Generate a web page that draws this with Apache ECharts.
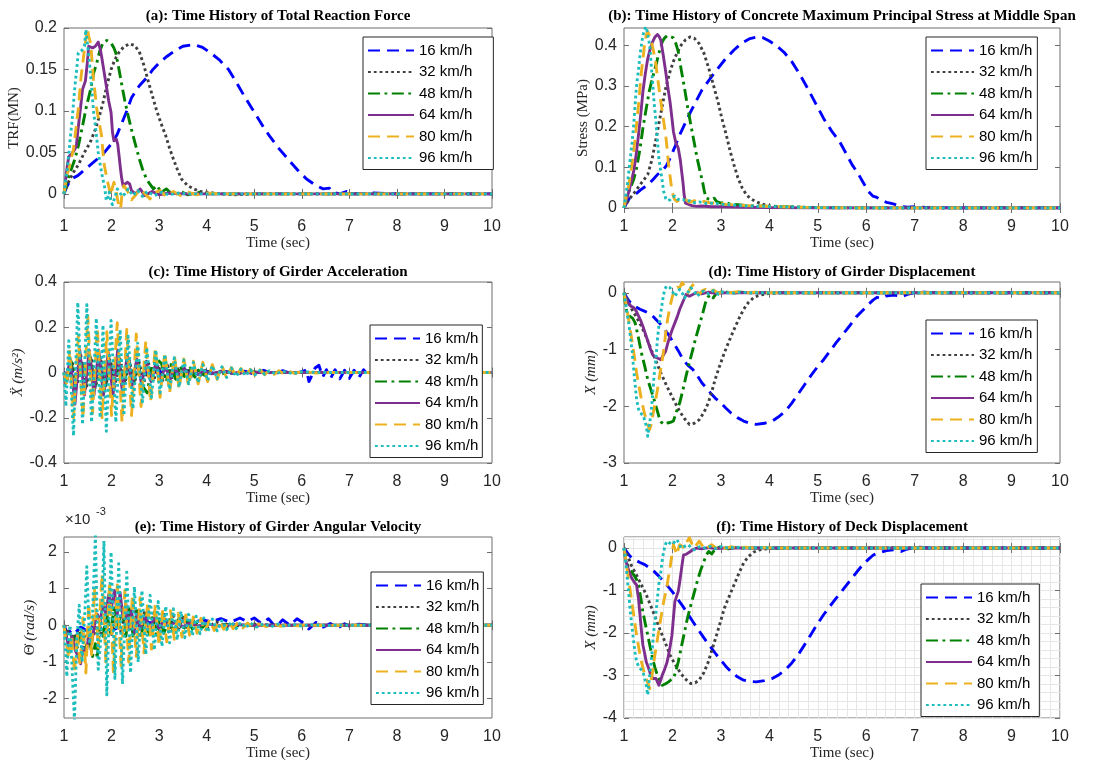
<!DOCTYPE html>
<html><head><meta charset="utf-8">
<script src="https://cdn.jsdelivr.net/npm/echarts@6.0.0/dist/echarts.min.js"></script>
<style>html,body{margin:0;padding:0;background:#fff}#c{width:1109px;height:766px}</style>
</head><body><div id="c"></div>
<script>
// ---------------- DATA (time in sec, value) ----------------
const speeds = ['16 km/h','32 km/h','48 km/h','64 km/h','80 km/h','96 km/h'];
const xTicks = [1,2,3,4,5,6,7,8,9,10];

// (a) Total reaction force (MN)
const A16=[[1,0],[1.05,0.008],[1.15,0.018],[1.29,0.022],[1.45,0.03],[1.66,0.04],[1.85,0.05],[2.02,0.062],[2.12,0.072],[2.22,0.086],[2.32,0.1],[2.42,0.116],[2.58,0.13],[2.74,0.14],[2.87,0.15],[3.0,0.158],[3.17,0.166],[3.34,0.173],[3.5,0.178],[3.73,0.18],[3.9,0.177],[4.06,0.171],[4.26,0.162],[4.46,0.15],[4.62,0.135],[4.79,0.118],[4.92,0.106],[5.05,0.094],[5.2,0.08],[5.32,0.07],[5.5,0.056],[5.65,0.046],[5.8,0.036],[5.94,0.027],[6.1,0.018],[6.3,0.01],[6.45,0.006],[6.58,0.007],[6.65,0.002],[6.8,0.0],[6.95,0.003],[7.1,0],[7.5,0.001],[8,0],[9,0],[10,0]];
const A32=[[1,0],[1.1,0.015],[1.2,0.026],[1.3,0.035],[1.43,0.05],[1.55,0.062],[1.66,0.078],[1.75,0.095],[1.82,0.11],[1.9,0.13],[1.99,0.15],[2.07,0.162],[2.15,0.17],[2.25,0.177],[2.38,0.181],[2.48,0.179],[2.58,0.172],[2.68,0.155],[2.78,0.134],[2.86,0.118],[2.94,0.102],[3.04,0.085],[3.14,0.07],[3.22,0.055],[3.3,0.042],[3.38,0.03],[3.47,0.018],[3.6,0.01],[3.73,0.006],[3.85,0.003],[4.0,0.002],[4.3,0.0],[4.6,-0.001],[5,0],[6,0],[7,0],[8,0],[9,0],[10,0]];
const A48=[[1,0],[1.06,0.015],[1.13,0.026],[1.23,0.042],[1.31,0.06],[1.39,0.082],[1.47,0.105],[1.56,0.126],[1.62,0.145],[1.69,0.158],[1.75,0.172],[1.82,0.182],[1.9,0.185],[1.99,0.182],[2.05,0.176],[2.09,0.17],[2.15,0.152],[2.22,0.13],[2.28,0.112],[2.35,0.094],[2.43,0.075],[2.51,0.058],[2.58,0.043],[2.65,0.03],[2.72,0.02],[2.78,0.014],[2.88,0.006],[2.95,0.01],[3.05,0.002],[3.15,0.006],[3.3,-0.002],[3.45,0.003],[3.6,-0.001],[3.8,0.002],[4.0,0],[4.5,0],[5,0],[6,0],[7,0],[8,0],[9,0],[10,0]];
const A64=[[1,0],[1.04,0.02],[1.07,0.034],[1.1,0.045],[1.16,0.048],[1.22,0.053],[1.26,0.058],[1.29,0.075],[1.32,0.09],[1.36,0.11],[1.39,0.126],[1.45,0.136],[1.49,0.158],[1.52,0.178],[1.56,0.18],[1.6,0.176],[1.66,0.178],[1.72,0.183],[1.76,0.175],[1.79,0.166],[1.84,0.148],[1.89,0.13],[1.94,0.112],[1.99,0.098],[2.02,0.074],[2.05,0.064],[2.1,0.066],[2.13,0.06],[2.16,0.045],[2.18,0.034],[2.21,0.02],[2.24,0.01],[2.28,0.008],[2.33,0.014],[2.38,0.012],[2.42,0.004],[2.5,0.0],[2.6,0.006],[2.7,-0.002],[2.85,0.003],[3.0,-0.001],[3.2,0.001],[3.5,0],[4,0],[5,0],[6,0],[7,0],[8,0],[9,0],[10,0]];
const A80=[[1,0],[1.05,0.02],[1.1,0.03],[1.15,0.042],[1.2,0.054],[1.25,0.078],[1.3,0.102],[1.33,0.122],[1.36,0.142],[1.4,0.16],[1.43,0.175],[1.46,0.186],[1.49,0.2],[1.52,0.19],[1.56,0.182],[1.59,0.16],[1.62,0.138],[1.66,0.118],[1.69,0.102],[1.74,0.086],[1.79,0.07],[1.82,0.05],[1.85,0.034],[1.89,0.022],[1.92,0.014],[1.96,0.004],[1.99,-0.002],[2.02,0.008],[2.05,0.014],[2.1,0.002],[2.15,-0.014],[2.19,-0.018],[2.22,0.0],[2.26,0.01],[2.33,0.004],[2.42,-0.007],[2.5,-0.002],[2.61,0.007],[2.7,0.0],[2.81,-0.006],[2.92,0.002],[3.02,0.004],[3.15,-0.003],[3.3,0.003],[3.45,-0.002],[3.6,0.002],[3.8,-0.001],[4.0,0.001],[4.3,0],[5,0],[6,0],[7,0],[8,0],[9,0],[10,0]];
const A96=[[1,0],[1.04,0.02],[1.07,0.03],[1.1,0.048],[1.13,0.066],[1.17,0.088],[1.2,0.11],[1.23,0.13],[1.26,0.146],[1.3,0.17],[1.33,0.172],[1.36,0.172],[1.4,0.175],[1.43,0.178],[1.46,0.198],[1.49,0.182],[1.53,0.162],[1.56,0.142],[1.59,0.122],[1.62,0.1],[1.66,0.082],[1.69,0.066],[1.72,0.05],[1.76,0.036],[1.79,0.026],[1.82,0.017],[1.85,0.01],[1.89,-0.008],[1.92,-0.004],[1.95,0.002],[1.99,-0.01],[2.02,-0.013],[2.07,-0.004],[2.12,0.006],[2.17,0.002],[2.22,-0.003],[2.28,0.0],[2.35,0.006],[2.45,-0.002],[2.55,0.004],[2.65,-0.003],[2.75,0.003],[2.9,-0.002],[3.05,0.002],[3.2,-0.001],[3.4,0.001],[3.6,0],[4,0],[5,0],[6,0],[7,0],[8,0],[9,0],[10,0]];

// (b) Concrete max principal stress (MPa)
const B16=[[1,0],[1.05,0.012],[1.12,0.025],[1.23,0.033],[1.35,0.045],[1.49,0.057],[1.6,0.07],[1.69,0.082],[1.8,0.092],[1.88,0.105],[1.95,0.122],[2.05,0.15],[2.15,0.18],[2.27,0.21],[2.38,0.237],[2.5,0.265],[2.61,0.29],[2.78,0.318],[2.94,0.343],[3.1,0.367],[3.27,0.388],[3.43,0.405],[3.6,0.416],[3.75,0.42],[3.87,0.418],[4.0,0.41],[4.13,0.4],[4.3,0.383],[4.46,0.36],[4.62,0.33],[4.79,0.294],[4.95,0.258],[5.12,0.22],[5.28,0.19],[5.45,0.163],[5.58,0.135],[5.71,0.106],[5.83,0.085],[5.94,0.062],[6.05,0.04],[6.14,0.029],[6.22,0.026],[6.3,0.02],[6.42,0.014],[6.56,0.01],[6.7,0.004],[6.85,0.002],[7.0,0.003],[7.3,0.001],[8,0],[9,0],[10,0]];
const B32=[[1,0],[1.1,0.02],[1.23,0.04],[1.35,0.06],[1.49,0.082],[1.58,0.12],[1.69,0.188],[1.78,0.245],[1.86,0.294],[1.95,0.335],[2.02,0.36],[2.1,0.382],[2.18,0.4],[2.27,0.413],[2.36,0.42],[2.45,0.417],[2.55,0.404],[2.65,0.38],[2.75,0.343],[2.85,0.3],[2.94,0.261],[3.02,0.22],[3.11,0.18],[3.19,0.14],[3.27,0.106],[3.35,0.075],[3.44,0.049],[3.52,0.034],[3.6,0.024],[3.7,0.017],[3.8,0.012],[3.9,0.008],[4.0,0.005],[4.3,0.003],[4.6,0.002],[5,0.001],[6,0],[7,0],[8,0],[9,0],[10,0]];
const B48=[[1,0],[1.05,0.025],[1.13,0.049],[1.2,0.07],[1.26,0.098],[1.33,0.145],[1.39,0.196],[1.46,0.245],[1.52,0.286],[1.59,0.32],[1.66,0.351],[1.72,0.38],[1.79,0.408],[1.84,0.418],[1.89,0.423],[1.95,0.421],[2.02,0.418],[2.07,0.404],[2.12,0.384],[2.18,0.34],[2.25,0.294],[2.31,0.25],[2.38,0.204],[2.45,0.16],[2.51,0.122],[2.57,0.09],[2.62,0.065],[2.66,0.04],[2.7,0.024],[2.76,0.022],[2.81,0.02],[2.86,0.024],[2.91,0.016],[3.0,0.012],[3.1,0.014],[3.2,0.009],[3.35,0.008],[3.5,0.006],[3.7,0.005],[4.0,0.004],[4.5,0.002],[5,0.001],[6,0],[7,0],[8,0],[9,0],[10,0]];
const B64=[[1,0],[1.05,0.02],[1.1,0.04],[1.15,0.065],[1.2,0.09],[1.25,0.13],[1.3,0.18],[1.35,0.235],[1.39,0.286],[1.44,0.33],[1.49,0.367],[1.54,0.39],[1.59,0.408],[1.64,0.42],[1.69,0.426],[1.73,0.42],[1.76,0.412],[1.81,0.375],[1.86,0.335],[1.9,0.3],[1.95,0.261],[1.99,0.22],[2.02,0.188],[2.07,0.16],[2.12,0.147],[2.16,0.12],[2.19,0.09],[2.22,0.06],[2.24,0.033],[2.27,0.012],[2.3,0.008],[2.4,0.006],[2.5,0.004],[2.6,0.005],[2.8,0.003],[3,0.003],[3.5,0.002],[4,0.001],[5,0],[6,0],[7,0],[8,0],[9,0],[10,0]];
const B80=[[1,0],[1.05,0.03],[1.1,0.057],[1.15,0.095],[1.2,0.139],[1.25,0.195],[1.3,0.253],[1.33,0.295],[1.36,0.335],[1.4,0.375],[1.43,0.408],[1.46,0.425],[1.49,0.433],[1.52,0.425],[1.56,0.412],[1.61,0.385],[1.66,0.351],[1.71,0.305],[1.76,0.261],[1.81,0.22],[1.86,0.18],[1.89,0.145],[1.92,0.106],[1.96,0.07],[1.99,0.041],[2.04,0.022],[2.09,0.016],[2.15,0.02],[2.22,0.016],[2.28,0.02],[2.35,0.014],[2.45,0.018],[2.55,0.013],[2.65,0.016],[2.81,0.012],[2.95,0.013],[3.1,0.009],[3.3,0.008],[3.5,0.006],[3.8,0.005],[4.2,0.003],[4.6,0.002],[5,0.001],[6,0],[7,0],[8,0],[9,0],[10,0]];
const B96=[[1,0],[1.03,0.025],[1.07,0.057],[1.1,0.09],[1.13,0.122],[1.17,0.165],[1.2,0.204],[1.23,0.255],[1.26,0.302],[1.3,0.34],[1.33,0.376],[1.36,0.4],[1.39,0.424],[1.43,0.44],[1.46,0.445],[1.49,0.425],[1.53,0.4],[1.56,0.355],[1.59,0.31],[1.62,0.26],[1.66,0.212],[1.69,0.165],[1.72,0.122],[1.76,0.09],[1.79,0.065],[1.82,0.04],[1.86,0.024],[1.9,0.018],[1.95,0.02],[2.0,0.027],[2.05,0.029],[2.1,0.022],[2.15,0.02],[2.22,0.021],[2.28,0.016],[2.35,0.018],[2.45,0.013],[2.55,0.015],[2.7,0.011],[2.85,0.012],[3.0,0.009],[3.2,0.008],[3.5,0.005],[3.8,0.004],[4.2,0.003],[4.6,0.002],[5,0.001],[6,0],[7,0],[8,0],[9,0],[10,0]];

// (c) Girder acceleration (m/s^2)
const C16=[[1,0],[1.1,-0.012],[1.2,0.01],[1.3,-0.015],[1.4,0.012],[1.5,-0.01],[1.6,0.014],[1.7,-0.012],[1.8,0.01],[1.9,-0.012],[2.0,0.012],[2.1,-0.01],[2.2,0.01],[2.3,-0.012],[2.4,0.012],[2.5,-0.01],[2.6,0.01],[2.7,-0.01],[2.8,0.012],[2.9,-0.01],[3.0,0.01],[3.1,-0.012],[3.2,0.01],[3.4,-0.008],[3.6,0.008],[3.8,-0.007],[4.0,0.006],[4.2,-0.006],[4.4,0.005],[4.6,-0.006],[4.8,0.006],[5.0,-0.008],[5.2,0.01],[5.4,-0.008],[5.6,0.008],[5.8,-0.006],[6.0,0.004],[6.1,0.012],[6.15,-0.04],[6.22,-0.01],[6.28,0.02],[6.36,0.032],[6.44,-0.02],[6.52,0.012],[6.6,-0.028],[6.7,0.012],[6.8,-0.028],[6.9,0.01],[7.0,-0.026],[7.1,0.01],[7.2,-0.022],[7.3,0.012],[7.4,-0.01],[7.5,0.004],[7.7,0],[8,0],[9,0],[10,0]];
const C32=[[1,0],[1.08,-0.03],[1.18,0.04],[1.28,-0.05],[1.38,0.05],[1.48,-0.06],[1.58,0.06],[1.68,-0.05],[1.78,0.06],[1.88,-0.06],[1.98,0.05],[2.08,-0.05],[2.18,0.06],[2.28,-0.05],[2.38,0.05],[2.48,-0.05],[2.58,0.045],[2.68,-0.045],[2.78,0.04],[2.88,-0.04],[2.98,0.035],[3.08,-0.035],[3.18,0.03],[3.28,-0.03],[3.38,0.025],[3.48,-0.022],[3.58,0.02],[3.68,-0.018],[3.78,0.015],[3.88,-0.012],[3.98,0.01],[4.1,-0.008],[4.3,0.006],[4.5,-0.004],[4.8,0.002],[5.2,0],[6,0],[8,0],[10,0]];
const C48=[[1,0],[1.05,-0.03],[1.15,0.05],[1.25,-0.07],[1.35,0.08],[1.45,-0.07],[1.55,0.08],[1.65,-0.07],[1.75,0.07],[1.85,-0.08],[1.95,0.06],[2.05,-0.07],[2.15,0.06],[2.25,-0.06],[2.35,0.05],[2.45,-0.06],[2.55,0.05],[2.65,-0.06],[2.75,-0.09],[2.85,0.03],[2.95,0.06],[3.05,0.04],[3.15,-0.04],[3.25,0.035],[3.35,-0.03],[3.45,0.03],[3.55,-0.025],[3.65,0.02],[3.75,-0.02],[3.85,0.015],[3.95,-0.012],[4.1,0.01],[4.3,-0.008],[4.5,0.006],[4.7,-0.004],[5.0,0.002],[5.5,0],[6,0],[8,0],[10,0]];
const C64=[[1,0],[1.03,-0.05],[1.13,0.06],[1.23,-0.14],[1.33,0.1],[1.43,-0.1],[1.53,0.1],[1.63,-0.1],[1.73,0.1],[1.83,-0.1],[1.93,0.09],[2.03,-0.1],[2.13,0.1],[2.23,-0.09],[2.33,0.08],[2.43,-0.06],[2.53,0.06],[2.63,-0.05],[2.73,0.05],[2.83,-0.04],[2.93,0.04],[3.03,-0.035],[3.13,0.03],[3.23,-0.03],[3.33,0.025],[3.43,-0.02],[3.53,0.02],[3.63,-0.015],[3.73,0.012],[3.83,-0.01],[3.93,0.008],[4.1,-0.006],[4.3,0.004],[4.6,-0.002],[5,0],[6,0],[8,0],[10,0]];
const C80=[[1,0],[1.06,-0.06],[1.12,0.1],[1.2,-0.2],[1.3,0.16],[1.4,-0.2],[1.5,0.25],[1.6,-0.18],[1.7,0.2],[1.8,-0.2],[1.9,0.18],[2.0,-0.19],[2.12,0.22],[2.22,-0.22],[2.32,0.19],[2.42,-0.19],[2.52,0.17],[2.62,-0.15],[2.72,0.14],[2.82,-0.13],[2.92,0.11],[3.02,-0.11],[3.12,0.09],[3.22,-0.09],[3.32,0.075],[3.42,-0.07],[3.52,0.06],[3.62,-0.06],[3.72,0.05],[3.82,-0.05],[3.92,0.045],[4.02,-0.04],[4.12,0.035],[4.22,-0.03],[4.32,0.03],[4.42,-0.025],[4.52,0.022],[4.62,-0.02],[4.72,0.018],[4.82,-0.015],[4.92,0.014],[5.02,-0.012],[5.12,0.012],[5.22,-0.01],[5.32,0.01],[5.42,-0.008],[5.52,0.008],[5.62,-0.006],[5.72,0.006],[5.85,-0.004],[6.0,0.004],[6.3,-0.002],[6.6,0],[8,0],[10,0]];
const C96=[[1,0],[1.04,-0.15],[1.1,0.14],[1.2,-0.28],[1.29,0.31],[1.39,-0.23],[1.48,0.3],[1.58,-0.22],[1.68,0.24],[1.76,-0.2],[1.82,0.21],[1.89,-0.26],[1.99,0.23],[2.09,-0.22],[2.18,0.19],[2.26,-0.19],[2.35,0.16],[2.45,-0.16],[2.55,0.13],[2.65,-0.13],[2.74,0.11],[2.84,-0.11],[2.93,0.1],[3.02,-0.09],[3.12,0.08],[3.22,-0.075],[3.32,0.065],[3.42,-0.065],[3.52,0.055],[3.62,-0.05],[3.72,0.045],[3.82,-0.045],[3.92,0.035],[4.02,-0.035],[4.12,0.03],[4.22,-0.028],[4.32,0.025],[4.42,-0.022],[4.52,0.02],[4.62,-0.018],[4.72,0.015],[4.82,-0.014],[4.92,0.012],[5.02,-0.01],[5.12,0.01],[5.22,-0.008],[5.32,0.008],[5.45,-0.006],[5.6,0.005],[5.8,-0.004],[6.0,0.003],[6.4,0],[8,0],[10,0]];

// (d) Girder displacement (mm)
const D16=[[1,0],[1.06,-0.09],[1.1,-0.14],[1.16,-0.2],[1.25,-0.25],[1.33,-0.29],[1.41,-0.32],[1.49,-0.35],[1.58,-0.4],[1.66,-0.47],[1.74,-0.54],[1.82,-0.62],[1.92,-0.74],[2.02,-0.88],[2.12,-1.02],[2.22,-1.18],[2.32,-1.28],[2.42,-1.35],[2.52,-1.47],[2.61,-1.59],[2.71,-1.69],[2.81,-1.79],[2.9,-1.87],[3.0,-1.94],[3.1,-2.03],[3.21,-2.12],[3.34,-2.2],[3.47,-2.26],[3.6,-2.3],[3.73,-2.32],[3.9,-2.3],[4.06,-2.26],[4.2,-2.18],[4.33,-2.09],[4.46,-1.95],[4.59,-1.79],[4.72,-1.63],[4.85,-1.47],[4.98,-1.32],[5.12,-1.18],[5.25,-1.03],[5.38,-0.88],[5.52,-0.73],[5.65,-0.59],[5.8,-0.42],[5.94,-0.3],[6.05,-0.2],[6.14,-0.13],[6.22,-0.08],[6.3,-0.1],[6.4,-0.06],[6.56,-0.04],[6.65,-0.05],[6.72,-0.07],[6.85,-0.03],[6.97,0],[7.2,0.01],[7.5,0],[8,0],[9,0],[10,0]];
const D32=[[1,0],[1.08,-0.14],[1.16,-0.29],[1.26,-0.43],[1.36,-0.59],[1.46,-0.78],[1.56,-1.0],[1.66,-1.2],[1.76,-1.41],[1.86,-1.6],[1.95,-1.76],[2.05,-1.93],[2.15,-2.09],[2.25,-2.22],[2.35,-2.32],[2.45,-2.3],[2.55,-2.24],[2.65,-2.11],[2.74,-1.94],[2.81,-1.75],[2.88,-1.53],[2.97,-1.3],[3.07,-1.06],[3.17,-0.85],[3.27,-0.65],[3.37,-0.46],[3.47,-0.29],[3.57,-0.17],[3.67,-0.09],[3.77,-0.05],[3.87,-0.03],[4.0,-0.01],[4.3,0],[5,0],[6,0],[7,0],[8,0],[9,0],[10,0]];
const D48=[[1,0],[1.03,-0.2],[1.06,-0.35],[1.1,-0.4],[1.13,-0.41],[1.18,-0.45],[1.23,-0.53],[1.3,-0.8],[1.36,-1.06],[1.43,-1.3],[1.49,-1.53],[1.56,-1.72],[1.62,-1.88],[1.67,-2.03],[1.72,-2.18],[1.77,-2.28],[1.82,-2.32],[1.87,-2.3],[1.92,-2.29],[1.97,-2.28],[2.02,-2.26],[2.08,-2.1],[2.15,-1.94],[2.22,-1.7],[2.28,-1.47],[2.35,-1.23],[2.42,-1.0],[2.48,-0.8],[2.55,-0.59],[2.62,-0.38],[2.68,-0.18],[2.73,-0.08],[2.78,-0.03],[2.84,-0.09],[2.9,-0.02],[2.94,0],[3.05,0.03],[3.2,-0.01],[3.4,0.01],[3.6,0],[4,0],[5,0],[6,0],[7,0],[8,0],[9,0],[10,0]];
const D64=[[1,0],[1.04,-0.1],[1.1,-0.2],[1.15,-0.24],[1.2,-0.26],[1.25,-0.32],[1.3,-0.41],[1.35,-0.5],[1.39,-0.59],[1.44,-0.72],[1.49,-0.85],[1.54,-0.98],[1.59,-1.09],[1.64,-1.13],[1.69,-1.15],[1.73,-1.17],[1.76,-1.18],[1.81,-1.1],[1.86,-1.03],[1.9,-0.9],[1.95,-0.76],[2.0,-0.64],[2.05,-0.53],[2.1,-0.42],[2.15,-0.29],[2.22,-0.15],[2.28,-0.03],[2.35,-0.06],[2.42,-0.03],[2.5,0.0],[2.6,-0.02],[2.75,0.01],[2.9,-0.01],[3.1,0],[3.5,0],[4,0],[5,0],[6,0],[7,0],[8,0],[9,0],[10,0]];
const D80=[[1,0],[1.03,-0.15],[1.06,-0.29],[1.11,-0.55],[1.16,-0.82],[1.21,-1.1],[1.26,-1.41],[1.31,-1.65],[1.36,-1.88],[1.41,-2.08],[1.46,-2.24],[1.5,-2.35],[1.53,-2.41],[1.56,-2.32],[1.59,-2.18],[1.64,-1.95],[1.69,-1.71],[1.74,-1.44],[1.79,-1.18],[1.83,-0.95],[1.86,-0.71],[1.9,-0.47],[1.95,-0.24],[2.0,-0.06],[2.05,0.06],[2.1,0.1],[2.15,0.09],[2.2,0.18],[2.24,0.19],[2.28,0.08],[2.32,0.0],[2.37,0.08],[2.42,0.14],[2.48,0.05],[2.55,-0.03],[2.62,0.04],[2.68,0.06],[2.75,0.0],[2.85,0.05],[2.95,-0.01],[3.05,0.03],[3.2,0],[3.35,0.02],[3.5,0],[3.7,0.01],[4,0],[5,0],[6,0],[7,0],[8,0],[9,0],[10,0]];
const D96=[[1,0],[1.03,-0.15],[1.06,-0.35],[1.1,-0.55],[1.13,-0.76],[1.17,-1.05],[1.2,-1.35],[1.23,-1.62],[1.26,-1.88],[1.3,-2.05],[1.33,-2.12],[1.36,-2.12],[1.39,-2.15],[1.43,-2.25],[1.46,-2.35],[1.49,-2.53],[1.52,-2.35],[1.56,-2.12],[1.59,-1.8],[1.62,-1.47],[1.66,-1.14],[1.69,-0.82],[1.72,-0.58],[1.76,-0.35],[1.8,-0.12],[1.84,0.06],[1.88,0.12],[1.95,0.09],[2.0,0.02],[2.05,-0.06],[2.1,0.0],[2.15,0.06],[2.2,0.0],[2.25,-0.09],[2.3,-0.02],[2.38,0.09],[2.45,0.02],[2.51,-0.06],[2.58,0.0],[2.65,0.03],[2.75,-0.02],[2.85,0.04],[2.95,-0.03],[3.05,0.02],[3.2,-0.01],[3.4,0.01],[3.6,0],[4,0],[5,0],[6,0],[7,0],[8,0],[9,0],[10,0]];

// (e) Girder angular velocity (x10^-3 rad/s)
const E16=[[1,0],[1.05,-0.15],[1.1,-0.2],[1.18,-0.1],[1.25,-0.18],[1.35,-0.05],[1.45,-0.12],[1.55,0.0],[1.7,-0.1],[1.85,-0.05],[2.0,-0.15],[2.15,-0.05],[2.3,0.05],[2.5,0.0],[2.7,0.1],[2.9,0.05],[3.1,0.15],[3.3,0.05],[3.5,0.12],[3.7,0.05],[3.9,0.15],[4.1,0.1],[4.3,0.18],[4.5,0.08],[4.7,0.2],[4.85,0.1],[5.0,0.2],[5.15,0.05],[5.3,0.18],[5.45,-0.05],[5.6,0.15],[5.75,0.0],[5.9,0.18],[6.05,0.05],[6.15,-0.1],[6.3,0.08],[6.45,-0.05],[6.6,0.05],[6.75,-0.08],[6.9,0.04],[7.05,-0.05],[7.2,0.03],[7.4,0],[8,0],[10,0]];
const E32=[[1,0],[1.1,-0.2],[1.2,-0.35],[1.3,-0.2],[1.4,-0.4],[1.5,-0.1],[1.6,-0.35],[1.7,0.0],[1.8,-0.3],[1.9,0.2],[2.0,-0.25],[2.1,0.35],[2.2,-0.2],[2.3,0.4],[2.4,-0.15],[2.5,0.45],[2.6,-0.1],[2.7,0.4],[2.8,-0.15],[2.9,0.35],[3.0,-0.2],[3.1,0.3],[3.2,-0.18],[3.3,0.25],[3.4,-0.15],[3.5,0.22],[3.6,-0.12],[3.7,0.18],[3.8,-0.1],[3.9,0.14],[4.0,-0.08],[4.2,0.1],[4.4,-0.05],[4.6,0.06],[4.8,-0.03],[5.0,0.03],[5.5,0],[6,0],[8,0],[10,0]];
const E48=[[1,0],[1.05,-0.3],[1.12,-0.55],[1.2,-0.3],[1.28,-0.6],[1.36,-0.2],[1.44,-0.7],[1.52,-0.3],[1.6,-0.85],[1.66,-0.5],[1.7,-0.9],[1.76,0.1],[1.82,-0.3],[1.9,0.3],[1.98,-0.2],[2.06,0.55],[2.14,-0.1],[2.22,0.5],[2.3,-0.3],[2.38,0.45],[2.46,-0.35],[2.54,0.4],[2.62,-0.35],[2.7,0.35],[2.78,-0.3],[2.86,0.3],[2.94,-0.25],[3.02,0.25],[3.1,-0.22],[3.2,0.2],[3.3,-0.18],[3.4,0.15],[3.5,-0.14],[3.6,0.12],[3.7,-0.1],[3.8,0.08],[3.9,-0.07],[4.0,0.06],[4.2,-0.04],[4.4,0.03],[4.7,-0.02],[5.0,0.01],[5.5,0],[6,0],[8,0],[10,0]];
const E64=[[1,0],[1.05,-0.3],[1.1,-0.6],[1.17,-0.3],[1.24,-0.7],[1.3,-0.85],[1.35,-1.05],[1.4,-0.6],[1.46,-0.8],[1.52,-0.3],[1.58,-0.5],[1.64,0.0],[1.7,0.3],[1.76,0.1],[1.82,0.6],[1.88,0.3],[1.94,0.85],[2.0,0.5],[2.06,0.95],[2.12,0.3],[2.18,0.9],[2.24,0.2],[2.3,0.6],[2.36,-0.1],[2.42,0.4],[2.48,-0.2],[2.54,0.3],[2.6,-0.1],[2.7,0.25],[2.8,-0.1],[2.9,0.2],[3.0,-0.08],[3.1,0.15],[3.2,-0.05],[3.35,0.1],[3.5,-0.04],[3.65,0.07],[3.8,-0.03],[4.0,0.05],[4.2,-0.02],[4.5,0.02],[5.0,0],[6,0],[8,0],[10,0]];
const E80=[[1,0],[1.04,-0.4],[1.1,-0.9],[1.16,-0.3],[1.22,-1.3],[1.28,-0.2],[1.34,-1.1],[1.4,0.2],[1.46,-1.3],[1.52,0.6],[1.58,-0.8],[1.64,1.0],[1.72,-0.6],[1.8,1.4],[1.88,-1.0],[1.96,1.2],[2.04,-1.3],[2.12,1.1],[2.2,-1.1],[2.28,0.95],[2.36,-1.0],[2.44,0.85],[2.52,-0.85],[2.6,0.75],[2.68,-0.75],[2.76,0.65],[2.84,-0.65],[2.92,0.55],[3.0,-0.55],[3.08,0.45],[3.16,-0.45],[3.24,0.4],[3.32,-0.38],[3.4,0.33],[3.48,-0.32],[3.56,0.28],[3.64,-0.27],[3.72,0.23],[3.8,-0.22],[3.88,0.19],[3.96,-0.18],[4.06,0.15],[4.16,-0.14],[4.26,0.12],[4.36,-0.11],[4.46,0.1],[4.56,-0.09],[4.66,0.08],[4.76,-0.07],[4.86,0.06],[4.96,-0.05],[5.1,0.04],[5.25,-0.035],[5.4,0.03],[5.55,-0.025],[5.7,0.02],[5.9,-0.015],[6.1,0.01],[6.4,-0.005],[6.8,0],[8,0],[10,0]];
const E96=[[1,0],[1.03,-0.6],[1.06,-1.4],[1.1,-0.2],[1.13,0.0],[1.17,-1.2],[1.22,-2.6],[1.27,-0.4],[1.32,0.55],[1.38,-1.0],[1.44,0.4],[1.48,1.6],[1.54,-0.5],[1.6,0.3],[1.66,2.45],[1.72,-1.2],[1.78,-0.3],[1.84,2.3],[1.9,-1.9],[1.99,2.0],[2.07,-1.45],[2.15,1.68],[2.23,-1.6],[2.32,1.45],[2.4,-1.3],[2.48,1.05],[2.56,-1.0],[2.64,0.95],[2.72,-0.8],[2.81,0.82],[2.9,-0.68],[2.98,0.65],[3.06,-0.58],[3.14,0.52],[3.22,-0.48],[3.3,0.45],[3.38,-0.4],[3.46,0.38],[3.54,-0.34],[3.62,0.3],[3.7,-0.28],[3.78,0.25],[3.86,-0.23],[3.94,0.2],[4.02,-0.19],[4.12,0.17],[4.22,-0.15],[4.32,0.13],[4.42,-0.12],[4.52,0.1],[4.62,-0.09],[4.72,0.08],[4.82,-0.07],[4.92,0.06],[5.05,-0.05],[5.2,0.045],[5.35,-0.04],[5.5,0.035],[5.65,-0.03],[5.8,0.025],[6.0,-0.02],[6.2,0.015],[6.5,-0.01],[6.8,0.005],[7.2,0],[8,0],[10,0]];

// (f) Deck displacement (mm)
const F16=[[1,0],[1.05,-0.08],[1.1,-0.16],[1.16,-0.23],[1.23,-0.28],[1.33,-0.34],[1.43,-0.39],[1.52,-0.46],[1.62,-0.55],[1.72,-0.66],[1.82,-0.79],[1.92,-0.92],[2.02,-1.06],[2.12,-1.22],[2.22,-1.38],[2.32,-1.55],[2.42,-1.73],[2.52,-1.9],[2.61,-2.05],[2.71,-2.21],[2.81,-2.36],[2.9,-2.5],[3.0,-2.64],[3.1,-2.78],[3.21,-2.91],[3.34,-3.03],[3.47,-3.11],[3.6,-3.14],[3.73,-3.15],[3.9,-3.12],[4.06,-3.07],[4.2,-2.98],[4.33,-2.87],[4.46,-2.71],[4.59,-2.52],[4.72,-2.29],[4.85,-2.05],[4.98,-1.81],[5.12,-1.57],[5.25,-1.37],[5.38,-1.18],[5.52,-0.98],[5.65,-0.79],[5.8,-0.57],[5.94,-0.38],[6.05,-0.26],[6.14,-0.17],[6.22,-0.12],[6.3,-0.1],[6.42,-0.06],[6.56,-0.04],[6.65,-0.06],[6.72,-0.08],[6.82,-0.03],[6.95,0],[7.1,0.02],[7.3,0],[8,0],[9,0],[10,0]];
const F32=[[1,0],[1.08,-0.2],[1.16,-0.43],[1.26,-0.64],[1.36,-0.87],[1.46,-1.1],[1.56,-1.38],[1.66,-1.67],[1.76,-1.97],[1.86,-2.25],[1.95,-2.52],[2.05,-2.73],[2.15,-2.91],[2.25,-3.07],[2.38,-3.19],[2.47,-3.17],[2.55,-3.11],[2.65,-2.93],[2.74,-2.68],[2.82,-2.38],[2.91,-2.05],[2.99,-1.74],[3.07,-1.42],[3.17,-1.14],[3.27,-0.87],[3.37,-0.6],[3.47,-0.35],[3.57,-0.2],[3.67,-0.1],[3.77,-0.05],[3.87,-0.03],[4.0,-0.01],[4.3,0],[5,0],[6,0],[7,0],[8,0],[9,0],[10,0]];
const F48=[[1,0],[1.04,-0.3],[1.1,-0.47],[1.15,-0.55],[1.2,-0.63],[1.25,-0.72],[1.3,-0.87],[1.35,-1.2],[1.39,-1.5],[1.44,-1.78],[1.49,-2.05],[1.54,-2.33],[1.59,-2.6],[1.64,-2.82],[1.69,-2.99],[1.74,-3.13],[1.79,-3.23],[1.85,-3.2],[1.92,-3.15],[1.97,-3.1],[2.02,-3.07],[2.07,-2.9],[2.12,-2.68],[2.18,-2.35],[2.25,-1.97],[2.31,-1.65],[2.38,-1.34],[2.45,-1.05],[2.51,-0.79],[2.58,-0.53],[2.65,-0.31],[2.7,-0.16],[2.75,-0.08],[2.81,-0.14],[2.86,-0.06],[2.91,0],[3.0,0.03],[3.15,-0.02],[3.3,0.01],[3.5,0],[4,0],[5,0],[6,0],[7,0],[8,0],[9,0],[10,0]];
const F64=[[1,0],[1.03,-0.25],[1.06,-0.39],[1.11,-0.57],[1.16,-0.71],[1.21,-0.8],[1.26,-0.87],[1.3,-1.2],[1.33,-1.57],[1.36,-1.95],[1.39,-2.28],[1.43,-2.5],[1.46,-2.68],[1.5,-2.8],[1.53,-2.91],[1.56,-3.0],[1.59,-3.07],[1.63,-3.08],[1.66,-3.07],[1.69,-3.15],[1.72,-3.23],[1.76,-3.1],[1.79,-2.99],[1.84,-2.85],[1.89,-2.68],[1.94,-2.4],[1.99,-2.05],[2.02,-1.65],[2.05,-1.26],[2.09,-1.12],[2.12,-1.02],[2.15,-0.8],[2.18,-0.55],[2.21,-0.3],[2.23,-0.16],[2.28,-0.15],[2.32,-0.16],[2.37,-0.08],[2.42,-0.04],[2.5,0],[2.6,-0.02],[2.75,0.01],[2.9,-0.01],[3.1,0],[3.5,0],[4,0],[5,0],[6,0],[7,0],[8,0],[9,0],[10,0]];
const F80=[[1,0],[1.03,-0.2],[1.06,-0.47],[1.11,-0.85],[1.16,-1.26],[1.21,-1.65],[1.26,-2.05],[1.31,-2.38],[1.36,-2.68],[1.41,-2.9],[1.46,-3.07],[1.5,-3.2],[1.53,-3.31],[1.56,-3.1],[1.59,-2.91],[1.62,-2.65],[1.66,-2.36],[1.71,-2.0],[1.76,-1.65],[1.79,-1.45],[1.82,-1.26],[1.86,-1.05],[1.89,-0.87],[1.92,-0.66],[1.95,-0.47],[1.99,-0.15],[2.02,0.08],[2.06,-0.05],[2.09,-0.16],[2.12,-0.02],[2.15,0.08],[2.2,0.04],[2.25,0],[2.3,0.15],[2.35,0.24],[2.4,0.1],[2.45,0],[2.5,0.08],[2.55,0.16],[2.62,0.05],[2.68,-0.04],[2.75,0.03],[2.81,0.08],[2.9,0.0],[3.0,0.05],[3.1,-0.01],[3.2,0.03],[3.35,0],[3.5,0.02],[3.7,0],[3.9,0.01],[4.2,0],[5,0],[6,0],[7,0],[8,0],[9,0],[10,0]];
const F96=[[1,0],[1.03,-0.25],[1.06,-0.63],[1.1,-1.1],[1.13,-1.5],[1.17,-1.9],[1.2,-2.2],[1.23,-2.47],[1.26,-2.68],[1.3,-2.78],[1.33,-2.83],[1.36,-2.87],[1.39,-2.91],[1.43,-3.08],[1.46,-3.23],[1.49,-3.46],[1.52,-3.1],[1.56,-2.68],[1.59,-2.28],[1.62,-1.89],[1.66,-1.52],[1.69,-1.18],[1.72,-0.85],[1.76,-0.55],[1.79,-0.28],[1.82,-0.08],[1.86,0.1],[1.89,0.16],[1.94,0.12],[1.99,0.08],[2.04,0.14],[2.09,0.2],[2.14,0.1],[2.18,0],[2.25,0.04],[2.32,0.08],[2.38,0.02],[2.45,-0.04],[2.52,0.01],[2.58,0.04],[2.68,0.0],[2.78,0.04],[2.9,-0.01],[3.0,0.03],[3.15,0],[3.3,0.02],[3.5,0],[3.8,0.01],[4.2,0],[5,0],[6,0],[7,0],[8,0],[9,0],[10,0]];

// tick labels per panel
const yTicksA=[0,0.05,0.1,0.15,0.2];
const yTicksB=[0,0.1,0.2,0.3,0.4];
const yTicksC=[-0.4,-0.2,0,0.2,0.4];
const yTicksD=[-3,-2,-1,0];
const yTicksE=[-2,-1,0,1,2];
const yTicksF=[-4,-3,-2,-1,0];

const titlesTxt=['(a): Time History of Total Reaction Force','(b): Time History of Concrete Maximum Principal Stress at Middle Span','(c): Time History of Girder Acceleration','(d): Time History of Girder Displacement','(e): Time History of Girder Angular Velocity','(f): Time History of Deck Displacement'];
const yNames=['TRF(MN)','Stress (MPa)','{i|Ẍ (m/s²)}','{i|X (mm)}','{n|Θ̇} {i|(rad/s)}','{i|X (mm)}'];

// ---------------- LAYOUT / STYLE ----------------
const seriesData=[[A16,A32,A48,A64,A80,A96],[B16,B32,B48,B64,B80,B96],[C16,C32,C48,C64,C80,C96],[D16,D32,D48,D64,D80,D96],[E16,E32,E48,E64,E80,E96],[F16,F32,F48,F64,F80,F96]];
const yTicks=[yTicksA,yTicksB,yTicksC,yTicksD,yTicksE,yTicksF];
const yRange=[[-0.017,0.2],[0,0.442],[-0.4,0.4],[-3,0.19],[-2.53,2.41],[-4,0.26]];
const lines=[
 {color:'#0000FF',type:[12,7]},
 {color:'#404040',type:[2.8,3]},
 {color:'#008000',type:[12,4.5,2.8,4.5]},
 {color:'#7E2F8E',type:'solid'},
 {color:'#EDB120',type:[12,7]},
 {color:'#1CBDBD',type:[2.8,3]}
];
const L=[
 {left:64,top:28,w:428,h:180,lg:{left:363,top:37,pad:[6,21,4,4],iw:46},tx:278,ty:9,yg:38},
 {left:624,top:28,w:436,h:180,lg:{left:926,top:37,pad:[6,5,4,4],iw:43},tx:842,ty:9,yg:29},
 {left:64,top:282,w:428,h:181,lg:{left:370,top:325,pad:[6,4,4,4],iw:45},tx:278,ty:265,yg:36},
 {left:624,top:282,w:436,h:181,lg:{left:926,top:320,pad:[6,5,4,4],iw:43},tx:842,ty:265,yg:23},
 {left:64,top:537,w:428,h:181,lg:{left:371,top:572,pad:[6,4,4,4],iw:45},tx:278,ty:520,yg:26},
 {left:624,top:537,w:436,h:181,lg:{left:921,top:584,pad:[6,9,4,4],iw:46},tx:842,ty:520,yg:23}
];
const AX='#6e6e6e', TXT='#262626';
const grids=[],xAxes=[],yAxes=[],series=[],legends=[],titles=[];
L.forEach((p,i)=>{
  grids.push({left:p.left,top:p.top,width:p.w,height:p.h,show:true,borderColor:AX,borderWidth:1,backgroundColor:'#fff'});
  const tick={show:true,inside:true,length:5,lineStyle:{color:AX,width:1}};
  const xb=xAxes.length;
  xAxes.push({type:'value',gridIndex:i,min:1,max:10,interval:1,position:'bottom',
    name:'Time (sec)',nameLocation:'middle',nameGap:27,
    nameTextStyle:{fontFamily:'Liberation Serif',fontSize:15,color:TXT},
    axisLine:{show:false},axisTick:tick,
    axisLabel:{fontFamily:'Liberation Sans',fontSize:16,color:TXT,margin:11},
    splitLine:{show:i===5,lineStyle:{color:'#d4d4d4',width:1}}});
  xAxes.push({type:'value',gridIndex:i,min:1,max:10,interval:1,position:'top',
    axisLine:{show:false},axisTick:tick,axisLabel:{show:false},splitLine:{show:false}});
  const yb=yAxes.length;
  const ycommon={type:'value',gridIndex:i,min:yRange[i][0],max:yRange[i][1]};
  yAxes.push(Object.assign({},ycommon,{position:'left',
    name:yNames[i],nameLocation:'middle',nameGap:p.yg,nameRotate:90,
    nameTextStyle:{fontFamily:'Liberation Serif',fontSize:15,color:TXT,
      rich:{i:{fontFamily:'Liberation Serif',fontStyle:'italic',fontSize:15,color:TXT},
            n:{fontFamily:'Liberation Serif',fontSize:15,color:TXT}}},
    axisLine:{show:false},
    axisTick:Object.assign({},tick,{customValues:yTicks[i]}),
    axisLabel:{fontFamily:'Liberation Sans',fontSize:16,color:TXT,margin:7,customValues:yTicks[i]},
    splitLine:{show:false}}, i===5?{interval:1}:{}));
  yAxes.push(Object.assign({},ycommon,{position:'right',axisLine:{show:false},
    axisTick:Object.assign({},tick,{customValues:yTicks[i]}),
    axisLabel:{show:false,customValues:yTicks[i]},splitLine:{show:false}}));
  if(i===5){
    // minor grid for panel (f)
    xAxes.push({type:'value',gridIndex:i,min:1,max:10,interval:0.2,position:'top',z:0,
      axisLine:{show:false},axisTick:{show:false},axisLabel:{show:false},
      splitLine:{show:true,lineStyle:{color:'#e6e6e6',width:1}}});
    yAxes.push({type:'value',gridIndex:i,min:-4,max:0.26,interval:0.2,position:'right',z:0,
      axisLine:{show:false},axisTick:{show:false},axisLabel:{show:false},
      splitLine:{show:true,lineStyle:{color:'#e6e6e6',width:1}}});
    yAxes[yb].splitLine={show:true,lineStyle:{color:'#d0d0d0',width:1}};
  }
  seriesData[i].forEach((d,k)=>{
    series.push({type:'line',name:speeds[k],xAxisIndex:xb,yAxisIndex:yb,data:d,
      symbol:'none',showSymbol:false,clip:true,z:3+k,
      lineStyle:{color:lines[k].color,width:2.9,type:lines[k].type,cap:'butt',join:'round'},
      itemStyle:{color:lines[k].color}});
  });
  legends.push({data:speeds,orient:'vertical',left:p.lg.left,top:p.lg.top,
    padding:p.lg.pad,itemGap:6.5,itemWidth:p.lg.iw,itemHeight:14,z:20,
    backgroundColor:'#fff',borderColor:TXT,borderWidth:1,borderRadius:0,selectedMode:false,
    itemStyle:{opacity:0},
    textStyle:{fontFamily:'Liberation Sans',fontSize:15,color:'#000',lineHeight:14}});
  titles.push({text:titlesTxt[i],left:p.tx,top:p.ty,textAlign:'center',padding:0,
    textStyle:{fontFamily:'Liberation Serif',fontWeight:'bold',fontSize:15,color:'#000'}});
});

const chart=echarts.init(document.getElementById('c'),null,{renderer:'canvas'});
chart.setOption({
  animation:false,backgroundColor:'#fff',
  title:titles,grid:grids,xAxis:xAxes,yAxis:yAxes,legend:legends,series:series,
  graphic:[
    {type:'text',left:65,top:512,style:{text:'×10',fontFamily:'Liberation Sans',fontSize:15,fill:TXT}},
    {type:'text',left:96,top:506,style:{text:'-3',fontFamily:'Liberation Sans',fontSize:11,fill:TXT}}
  ]
});
</script></body></html>
